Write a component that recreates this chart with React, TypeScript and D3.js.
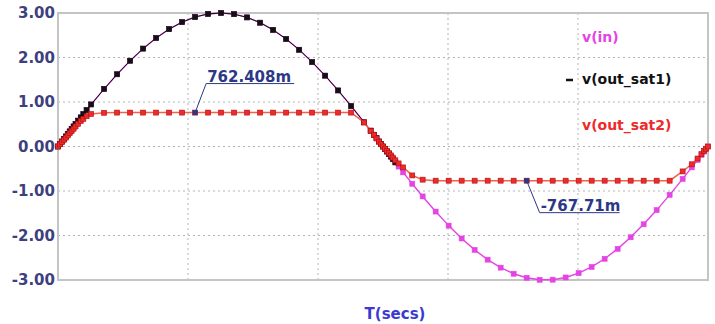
import React from 'react';
import * as d3 from 'd3';

// simulation time points (µs) – dense around zero crossings like the SPICE output
const timeUs = [
  0, 3, 6, 9, 12, 15, 18, 21, 24, 27, 31, 35, 39, 44, 51,
  71, 91, 111, 131, 151, 171, 191, 211, 231, 251, 271, 291, 311, 331, 351, 371, 391, 411, 431, 451, 471,
  481, 486, 490, 494, 497, 500, 503, 506, 509, 512, 515, 519, 524,
  531, 545, 561, 581, 601, 621, 641, 661, 681, 701, 721, 741, 761, 781, 801, 821, 841, 861, 881, 901, 921, 941,
  961, 975, 984, 990, 994, 997, 1000,
];

const vIn = [
  0, 0.057, 0.113, 0.17, 0.226, 0.282, 0.339, 0.395, 0.451, 0.507, 0.581, 0.654, 0.728, 0.819, 0.945,
  1.294, 1.623, 1.927, 2.2, 2.438, 2.638, 2.796, 2.91, 2.979, 3.0, 2.974, 2.901, 2.782, 2.62, 2.416, 2.174, 1.898, 1.592, 1.26, 0.909, 0.544,
  0.357, 0.264, 0.188, 0.113, 0.057, 0, -0.057, -0.113, -0.17, -0.226, -0.282, -0.357, -0.451,
  -0.581, -0.837, -1.122, -1.462, -1.778, -2.067, -2.323, -2.543, -2.722, -2.859, -2.95, -2.995, -2.993, -2.943, -2.847, -2.707, -2.523, -2.3, -2.04, -1.748, -1.429, -1.087,
  -0.728, -0.469, -0.301, -0.188, -0.113, -0.057, 0,
];

// out_sat1 only shows over the positive half (first 48 time points)
const vOutSat1 = [
  0, 0.057, 0.113, 0.17, 0.226, 0.282, 0.339, 0.395, 0.451, 0.507, 0.581, 0.654, 0.728, 0.819, 0.945,
  1.294, 1.623, 1.927, 2.2, 2.438, 2.638, 2.796, 2.91, 2.979, 3.0, 2.974, 2.901, 2.782, 2.62, 2.416, 2.174, 1.898, 1.592, 1.26, 0.909, 0.544,
  0.357, 0.264, 0.188, 0.113, 0.057, 0, -0.057, -0.113, -0.17, -0.226, -0.282, -0.357,
];

const vOutSat2 = [
  0, 0.05, 0.1, 0.15, 0.2, 0.25, 0.3, 0.35, 0.4, 0.45, 0.51, 0.57, 0.62, 0.68, 0.73,
  0.758, 0.762, 0.762, 0.762, 0.762, 0.762, 0.762, 0.762, 0.762, 0.762, 0.762, 0.762, 0.762, 0.762, 0.762, 0.762, 0.762, 0.762, 0.762, 0.762, 0.54,
  0.35, 0.26, 0.18, 0.11, 0.05, 0, -0.05, -0.1, -0.15, -0.2, -0.25, -0.31, -0.38,
  -0.47, -0.65, -0.745, -0.768, -0.768, -0.768, -0.768, -0.768, -0.768, -0.768, -0.768, -0.768, -0.768, -0.768, -0.768, -0.768, -0.768, -0.768, -0.768, -0.768, -0.768, -0.768,
  -0.56, -0.4, -0.27, -0.17, -0.1, -0.05, 0,
];

const yTicks = [3, 2, 1, 0, -1, -2, -3];
const xGridUs = [200, 400, 600, 800];
const legendNames = ['v(in)', 'v(out_sat1)', 'v(out_sat2)'];
const noteTimes = [211, 721];
const noteValues = [0.762408, -0.76771];
const noteLabels = ['762.408m', '-767.71m'];

const W = 715;
const H = 324;
const margin = { top: 13, right: 7, bottom: 44, left: 58 };

const colors = {
  vin: '#e444e4',
  sat1: '#111111',
  sat2: '#ee2a2a',
  sat2Line: '#f4604e',
  grid: '#b4b4b4',
  frame: '#c4c4c4',
  tick: '#3d3f7f',
  note: '#2c3886',
  xTitle: '#3b3bd0',
};

const App = () => {
  const x = d3.scaleLinear().domain([0, 1000]).range([margin.left, W - margin.right]);
  const y = d3.scaleLinear().domain([-3, 3]).range([H - margin.bottom, margin.top]);

  const mk = (vals: number[]) => vals.map((v, i) => [timeUs[i], v] as [number, number]);
  const line = d3.line<[number, number]>().x(d => x(d[0])).y(d => y(d[1]));

  const series = [
    { pts: mk(vIn), line: colors.vin, fill: colors.vin, stroke: colors.vin, w: 1.4 },
    { pts: mk(vOutSat1), line: colors.sat1, fill: colors.sat1, stroke: colors.sat1, w: 1 },
    { pts: mk(vOutSat2), line: colors.sat2Line, fill: colors.sat2, stroke: '#b01010', w: 1.5 },
  ];

  const x0 = margin.left, x1 = W - margin.right;
  const y0 = margin.top, y1 = H - margin.bottom;
  const font = '"DejaVu Sans", sans-serif';

  return (
    <svg width={W} height={H} style={{ position: 'absolute', left: 0, top: 0, background: '#fff' }}>
      {/* grid */}
      {yTicks.filter(t => t !== 3 && t !== -3).map(t => (
        <line key={'gy' + t} x1={x0} x2={x1} y1={y(t)} y2={y(t)} stroke={colors.grid} strokeWidth={1} strokeDasharray="2,3" />
      ))}
      {xGridUs.map(t => (
        <line key={'gx' + t} x1={x(t)} x2={x(t)} y1={y0} y2={y1} stroke={colors.grid} strokeWidth={1} strokeDasharray="2,3" />
      ))}
      {/* frame */}
      <rect x={x0} y={y0} width={x1 - x0} height={y1 - y0} fill="none" stroke={colors.frame} strokeWidth={2} />

      {/* y tick labels */}
      {yTicks.map(t => (
        <text key={'ty' + t} x={x0 - 3} y={y(t)} dy="0.36em" textAnchor="end" fontFamily={font} fontWeight="bold" fontSize={15} fill={colors.tick}>
          {t.toFixed(2)}
        </text>
      ))}

      {/* series */}
      {series.map((s, si) => (
        <g key={'s' + si}>
          <path d={line(s.pts) || ''} fill="none" stroke={s.line} strokeWidth={s.w} />
          {s.pts.map((p, i) => (
            <rect key={i} x={x(p[0]) - 2.5} y={y(p[1]) - 2.5} width={5} height={5} fill={s.fill} stroke={s.stroke} strokeWidth={0.6} />
          ))}
        </g>
      ))}

      {/* annotations */}
      {noteTimes.map((t, i) => {
        const mx = x(t), my = y(noteValues[i]);
        const up = noteValues[i] > 0;
        const lx = mx + (up ? 11 : 13);
        const ly = up ? my - 29 : my + 32;
        const tw = up ? 88 : 80;
        return (
          <g key={'n' + i}>
            <polyline points={`${mx},${my} ${lx},${ly} ${lx + tw},${ly}`} fill="none" stroke={colors.note} strokeWidth={1} />
            <rect x={mx - 2.5} y={my - 2.5} width={5} height={5} fill={colors.note} />
            <text x={lx + 1} y={ly - 2} fontFamily={font} fontWeight="bold" fontSize={15} fill={colors.note}>{noteLabels[i]}</text>
          </g>
        );
      })}

      {/* legend */}
      {legendNames.map((n, i) => (
        <text key={n} x={582} y={[37, 79, 125][i]} dy="0.36em" fontFamily={font} fontWeight="bold" fontSize={14}
          fill={[colors.vin, colors.sat1, colors.sat2][i]}>{n}</text>
      ))}
      <line x1={566} x2={573} y1={80} y2={80} stroke={colors.sat1} strokeWidth={2.5} />

      {/* x title */}
      <text x={395} y={314} dy="0.36em" textAnchor="middle" fontFamily={font} fontWeight="bold" fontSize={15} fill={colors.xTitle}>T(secs)</text>
    </svg>
  );
};

export default App;
